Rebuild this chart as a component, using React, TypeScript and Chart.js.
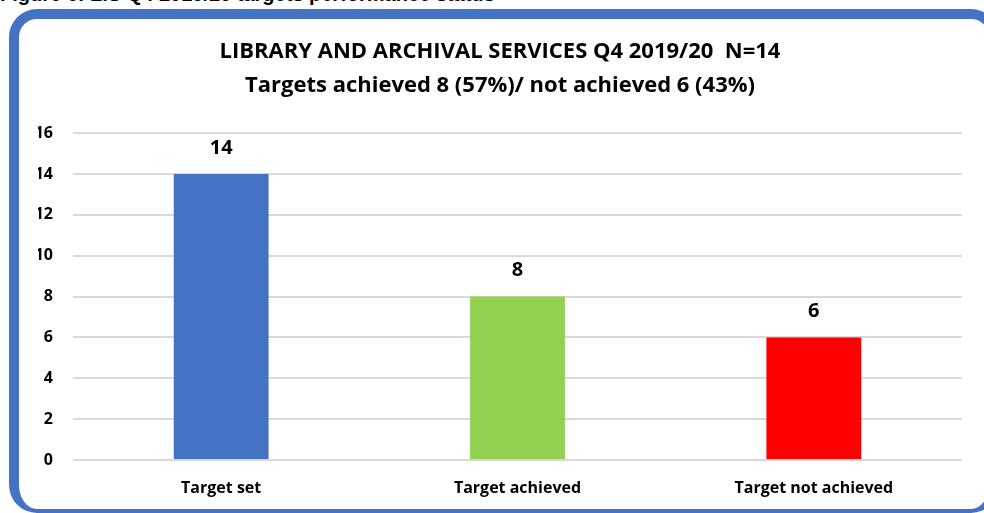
import React, { useEffect, useRef } from "react";
import { Chart, registerables } from "chart.js";

Chart.register(...registerables);

const categories = ["Target set", "Target achieved", "Target not achieved"];
const values = [14, 8, 6];
const barColors = ["#4472C4", "#92D050", "#FF0000"];
const titleLines = [
  "LIBRARY AND ARCHIVAL SERVICES Q4 2019/20  N=14",
  "Targets achieved 8 (57%)/ not achieved 6 (43%)",
];
const yMax = 16;
const yStep = 2;
const caption = "Figure 6: LIS Q4 2019/20 targets performance status";

const FONT = "'Open Sans', Lato, sans-serif";

const valueLabels = {
  id: "valueLabels",
  afterDatasetsDraw(chart: any) {
    const ctx = chart.ctx;
    const meta = chart.getDatasetMeta(0);
    ctx.save();
    ctx.font = `bold 20px ${FONT}`;
    ctx.fillStyle = "#000";
    ctx.textAlign = "center";
    ctx.textBaseline = "middle";
    meta.data.forEach((bar: any, i: number) => {
      ctx.fillText(String(chart.data.datasets[0].data[i]), bar.x, bar.y - 26);
    });
    ctx.restore();
  },
};

export default function App() {
  const ref = useRef<HTMLCanvasElement | null>(null);
  useEffect(() => {
    if (!ref.current) return;
    const chart = new Chart(ref.current, {
      type: "bar",
      data: {
        labels: categories,
        datasets: [
          {
            data: values,
            backgroundColor: barColors,
            barPercentage: 0.32,
            categoryPercentage: 1,
          },
        ],
      },
      options: {
        animation: false,
        responsive: false,
        maintainAspectRatio: false,
        layout: { padding: { left: 38, right: 22, top: 0, bottom: 0 } },
        plugins: {
          legend: { display: false },
          tooltip: { enabled: false },
          title: {
            display: true,
            text: titleLines,
            color: "#000",
            font: { family: FONT, size: 22, weight: "bold", lineHeight: 1.55 },
            padding: { top: 35, bottom: 30 },
          },
        },
        scales: {
          x: {
            grid: { display: false },
            border: { display: false },
            ticks: {
              color: "#000",
              font: { family: FONT, size: 16, weight: "bold" },
              padding: 11,
            },
            afterFit(scale: any) {
              scale.height = 53;
            },
          },
          y: {
            min: 0,
            max: yMax,
            ticks: {
              stepSize: yStep,
              color: "#000",
              font: { family: FONT, size: 16, weight: "bold" },
              padding: 20,
            },
            grid: { color: "#D9D9D9", lineWidth: 2, drawTicks: false },
            border: { display: false },
            afterFit(scale: any) {
              scale.width = 35;
            },
          },
        },
      },
      plugins: [valueLabels],
    });
    return () => chart.destroy();
  }, []);

  return (
    <div
      style={{
        position: "fixed",
        left: 0,
        top: 0,
        width: 984,
        height: 513,
        overflow: "hidden",
        background: "#fff",
      }}
    >
      <div
        style={{
          position: "absolute",
          left: 0,
          top: -16,
          fontFamily: "'Liberation Sans', Arial, sans-serif",
          fontWeight: "bold",
          fontSize: 20,
          lineHeight: "20px",
          whiteSpace: "nowrap",
          color: "#000",
        }}
      >
        {caption}
      </div>
      <div
        style={{
          position: "absolute",
          left: 9,
          top: 9,
          width: 990,
          height: 504,
          boxSizing: "border-box",
          borderStyle: "solid",
          borderColor: "#4472C4",
          borderWidth: "10px 10px 4px 10px",
          borderRadius: 28,
        }}
      />
      <canvas
        ref={ref}
        width={984}
        height={513}
        style={{ position: "absolute", left: 0, top: 0 }}
      />
    </div>
  );
}
